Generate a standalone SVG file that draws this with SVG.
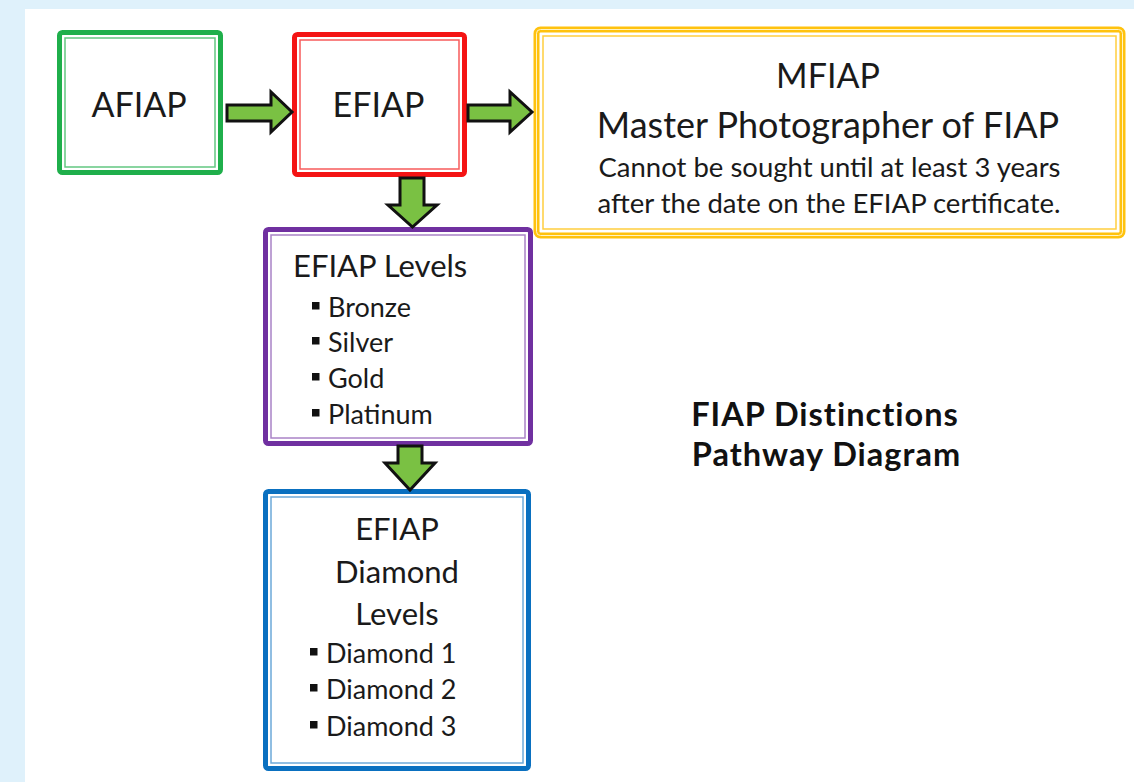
<svg xmlns="http://www.w3.org/2000/svg" width="1134" height="782" viewBox="0 0 1134 782">
  <style>
    .t { font-family: Lato, "Open Sans", "Liberation Sans", sans-serif; fill: #1a1a1a; }
    .big { font-size: 36px; }
    .head { font-size: 34px; }
    .mid { font-size: 31px; }
    .sm { font-size: 27px; }
    .note { font-size: 27.5px; }
    .title { font-size: 32.5px; font-weight: bold; fill: #111; letter-spacing: 1px; }
    .arrow { fill: #7ac143; stroke: #111; stroke-width: 3; stroke-linejoin: miter; }
    .bul { fill: #111; }
  </style>
  <rect x="0" y="0" width="1134" height="782" fill="#dff1fb"/>
  <rect x="25" y="9" width="1109" height="773" fill="#ffffff"/>

  <g id="afiap">
    <rect x="59.5" y="32.5" width="161" height="140" rx="3" fill="#fff" stroke="#1faf4b" stroke-width="5"/>
    <rect x="65" y="38" width="150" height="129" fill="none" stroke="#1faf4b" stroke-width="1.5" opacity="0.7"/>
    <text class="t head" x="139" y="117" text-anchor="middle">AFIAP</text>
  </g>

  <g id="efiap">
    <rect x="294.5" y="34.5" width="170" height="140" rx="3" fill="#fff" stroke="#f41414" stroke-width="5"/>
    <rect x="300" y="40" width="159" height="129" fill="none" stroke="#f41414" stroke-width="1.5" opacity="0.7"/>
    <text class="t head" x="378.5" y="117" text-anchor="middle">EFIAP</text>
  </g>

  <g id="mfiap">
    <rect x="536.5" y="29.5" width="586" height="206" rx="4" fill="#fff" stroke="#ffc20e" stroke-width="6"/>
    <rect x="536.5" y="29.5" width="586" height="206" rx="4" fill="none" stroke="#fff3c4" stroke-width="1"/>
    <rect x="543" y="36" width="573" height="193" fill="none" stroke="#ffc20e" stroke-width="1.5" opacity="0.8"/>
    <text class="t head" x="828" y="88" text-anchor="middle">MFIAP</text>
    <text class="t big" x="828" y="138" text-anchor="middle">Master Photographer of FIAP</text>
    <text class="t note" x="829.5" y="177" text-anchor="middle">Cannot be sought until at least 3 years</text>
    <text class="t note" x="829" y="213" text-anchor="middle">after the date on the EFIAP certificate.</text>
  </g>

  <g id="efiap-levels">
    <rect x="265.5" y="229.5" width="265" height="214" rx="3" fill="#fff" stroke="#7030a0" stroke-width="5"/>
    <rect x="271" y="235" width="254" height="203" fill="none" stroke="#7030a0" stroke-width="1.5" opacity="0.6"/>
    <text class="t mid" x="293" y="277">EFIAP Levels</text>
    <rect class="bul" x="312" y="302" width="7.5" height="7.5"/>
    <text class="t sm" x="328" y="317">Bronze</text>
    <rect class="bul" x="312" y="337" width="7.5" height="7.5"/>
    <text class="t sm" x="328" y="352">Silver</text>
    <rect class="bul" x="312" y="373" width="7.5" height="7.5"/>
    <text class="t sm" x="328" y="388">Gold</text>
    <rect class="bul" x="312" y="409" width="7.5" height="7.5"/>
    <text class="t sm" x="328" y="424">Platinum</text>
  </g>

  <g id="efiap-diamond">
    <rect x="265.5" y="491.5" width="263" height="277" rx="3" fill="#fff" stroke="#0a70c0" stroke-width="5"/>
    <rect x="271" y="497" width="252" height="266" fill="none" stroke="#0a70c0" stroke-width="1.5" opacity="0.6"/>
    <text class="t mid" x="397" y="540" text-anchor="middle">EFIAP</text>
    <text class="t mid" x="397" y="583" text-anchor="middle">Diamond</text>
    <text class="t mid" x="397" y="625" text-anchor="middle">Levels</text>
    <rect class="bul" x="310" y="648" width="7.5" height="7.5"/>
    <text class="t sm" x="326" y="663">Diamond 1</text>
    <rect class="bul" x="310" y="684" width="7.5" height="7.5"/>
    <text class="t sm" x="326" y="699">Diamond 2</text>
    <rect class="bul" x="310" y="721" width="7.5" height="7.5"/>
    <text class="t sm" x="326" y="736">Diamond 3</text>
  </g>

  <g id="title">
    <text class="t title" x="825" y="426" text-anchor="middle">FIAP Distinctions</text>
    <text class="t title" x="826.5" y="466" text-anchor="middle">Pathway Diagram</text>
  </g>

  <g id="connectors">
    <polygon class="arrow" points="227,105 271,105 271,92 292,112 271,132 271,121 227,121"/>
    <polygon class="arrow" points="468,105 510,105 510,92 532,112 510,132 510,121 468,121"/>
    <polygon class="arrow" points="400,178 424,178 424,205 437,205 412.5,227 388,205 400,205"/>
    <polygon class="arrow" points="398,446 422,446 422,463 435,463 410,490 385,463 398,463"/>
  </g>
</svg>
